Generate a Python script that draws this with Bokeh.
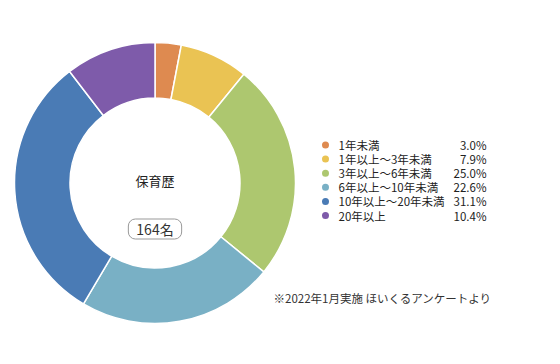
import math
from bokeh.plotting import figure
from bokeh.models import ColumnDataSource, Range1d, Label
from bokeh.core.properties import value
from bokeh.embed import file_html
from bokeh.resources import INLINE

categories = ["1年未満", "1年以上〜3年未満", "3年以上〜6年未満", "6年以上〜10年未満", "10年以上〜20年未満", "20年以上"]
shares = [3.0, 7.9, 25.0, 22.6, 31.1, 10.4]
colors = ["#DE8A50", "#EAC353", "#ADC76F", "#79B0C5", "#4A7BB5", "#7E5BAA"]
center_title = "保育歴"
total_label = "164名"
note = "※2022年1月実施 ほいくるアンケートより"

FONT = "Noto Sans CJK JP"
W, H = 544, 348

p = figure(width=W, height=H, output_backend="svg", toolbar_location=None,
           x_range=Range1d(0, W), y_range=Range1d(364 - H, 364),
           min_border=0, outline_line_color=None, background_fill_color="white")
p.axis.visible = False
p.grid.visible = False

total = sum(shares)
starts, ends = [], []
acc = 0.0
for s in shares:
    a0 = math.pi / 2 - 2 * math.pi * acc / total
    acc += s
    a1 = math.pi / 2 - 2 * math.pi * acc / total
    starts.append(a0)
    ends.append(a1)

cx, cy = 154.5, 364 - 182.5
src = ColumnDataSource(dict(start=starts, end=ends, color=colors))
p.annular_wedge(x=cx, y=cy, inner_radius=85, outer_radius=140.5,
                start_angle="start", end_angle="end", direction="clock",
                fill_color="color", line_color="white", line_width=1.5, source=src)

p.text(x=[cx], y=[364 - 180], text=[center_title], text_align="center", text_baseline="middle",
       text_font=value(FONT), text_font_size="13px", text_color="#222222")
p.add_layout(Label(x=cx, y=364 - 228.5, text=total_label, text_align="center", text_baseline="middle",
                   text_font=FONT, text_font_size="14px", text_color="#333333",
                   border_line_color="#999999", border_line_width=1, border_radius=7,
                   padding=(8, 0), background_fill_color="white"))

ly0, step = 144.5, 14.1
ys = [364 - (ly0 + i * step) for i in range(len(categories))]
pct = ["%.1f%%" % s for s in shares]
lsrc = ColumnDataSource(dict(y=ys, cat=categories, pct=pct, color=colors))
p.scatter(x=325, y="y", size=7, marker="circle", fill_color="color", line_color=None, source=lsrc)
p.text(x=338, y="y", text="cat", text_baseline="middle", text_align="left",
       text_font=value(FONT), text_font_size="11.5px", text_color="#222222", source=lsrc)
p.text(x=486, y="y", text="pct", text_baseline="middle", text_align="right",
       text_font=value(FONT), text_font_size="11.5px", text_color="#222222", source=lsrc)

p.text(x=[273], y=[364 - 297], text=[note], text_baseline="middle", text_align="left",
       text_font=value(FONT), text_font_size="11.5px", text_color="#333333")

open("out.html", "w").write(file_html(p, INLINE))
